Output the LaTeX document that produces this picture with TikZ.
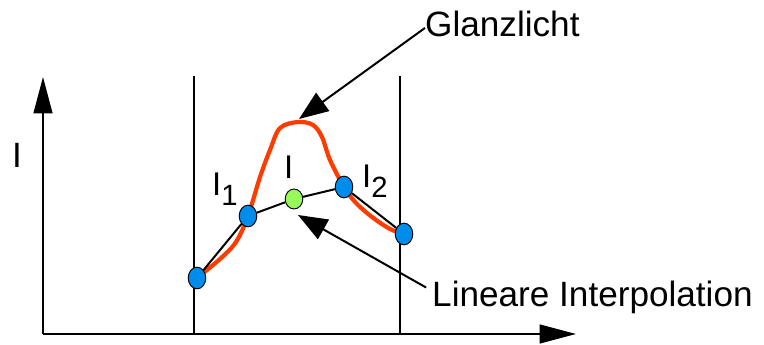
\documentclass[tikz,border=0pt]{standalone}
\usepackage{fontspec}
\setmainfont{Liberation Sans}
\usetikzlibrary{shapes.geometric,arrows.meta,positioning,calc}
\definecolor{dotblue}{RGB}{0,140,235}
\definecolor{dotgreen}{RGB}{150,250,90}
\definecolor{hlred}{RGB}{255,60,0}
\tikzset{
    axis/.style={line width=1.7pt, -{Triangle[length=31pt,width=16pt]}},
    pointer/.style={line width=1.7pt, -{Triangle[length=25pt,width=19pt]}},
    guide/.style={line width=1.5pt},
    sample/.style={ellipse, draw=black, fill=dotblue, line width=0.8pt, minimum width=15pt, minimum height=18.5pt, inner sep=0pt},
    interp/.style={sample, fill=dotgreen, minimum height=17pt},
    seg/.style={line width=1.7pt},
    highlight/.style={draw=hlred, line width=3.6pt},
    lbl/.style={inner sep=0pt, anchor=base west, font=\fontsize{28}{30}\selectfont},
    txt/.style={inner sep=0pt, anchor=base west, font=\fontsize{30}{34}\selectfont},
}
\newcommand{\lowsub}[1]{\raisebox{-8pt}{\fontsize{25}{25}\selectfont #1}}

\begin{document}
\begin{tikzpicture}[x=0.03cm, y=-0.03cm]
    \useasboundingbox (0,0) rectangle (764,345);

    % Axes
    \coordinate (o) at (43,334);
    \coordinate (ytop) at (43,77);
    \coordinate (xend) at (576,334);
    \draw[axis] (o) -- (ytop);
    \draw[axis] (o) -- (xend);

    % Grid lines
    \coordinate (g1b) at (194,334);
    \coordinate (g1t) at (194,76);
    \coordinate (g2b) at (400,334);
    \coordinate (g2t) at (400,76);
    \draw[guide] (g1b) -- (g1t);
    \draw[guide] (g2b) -- (g2t);

    % Sample positions
    \coordinate (c0) at (197,278);
    \coordinate (c1) at (248,216);
    \coordinate (ci) at (294,199);
    \coordinate (c2) at (344,187);
    \coordinate (c3) at (404,234);

    % Highlight curve
    \draw[highlight] plot[smooth, tension=0.55] coordinates {(c0) (220,259) (236,242) (c1) (260,177) (270,150) (280,128) (298,122) (313,125) (322,137) (330,160) (c2) (356,203) (372,217) (390,229) (c3)};

    % Samples
    \node[sample] (p0) at (c0) {};
    \node[sample] (p1) at (c1) {};
    \node[interp] (pi) at (ci) {};
    \node[sample] (p2) at (c2) {};
    \node[sample] (p3) at (c3) {};
    \draw[seg] (p0) -- (p1) -- (pi) -- (p2) -- (p3);

    % Labels
    \node[txt] (ylbl) at (12,168) {I};
    \node[lbl] (l1) at (212,196) {I\lowsub{1}};
    \node[lbl] (li) at (284,179) {I};
    \node[lbl] (l2) at (362,188) {I\lowsub{2}};
    \node[txt] (glanz) at (425,37) {Glanzlicht};
    \node[txt] (lin) at (432,306) {Lineare Interpolation};

    % Pointers
    \coordinate (gtip) at (299,119);
    \coordinate (ltip) at (298,215);
    \draw[pointer] ([yshift=-3pt]glanz.west) -- (gtip);
    \draw[pointer] ([xshift=-5pt,yshift=8pt]lin.west) -- (ltip);
\end{tikzpicture}
\end{document}
